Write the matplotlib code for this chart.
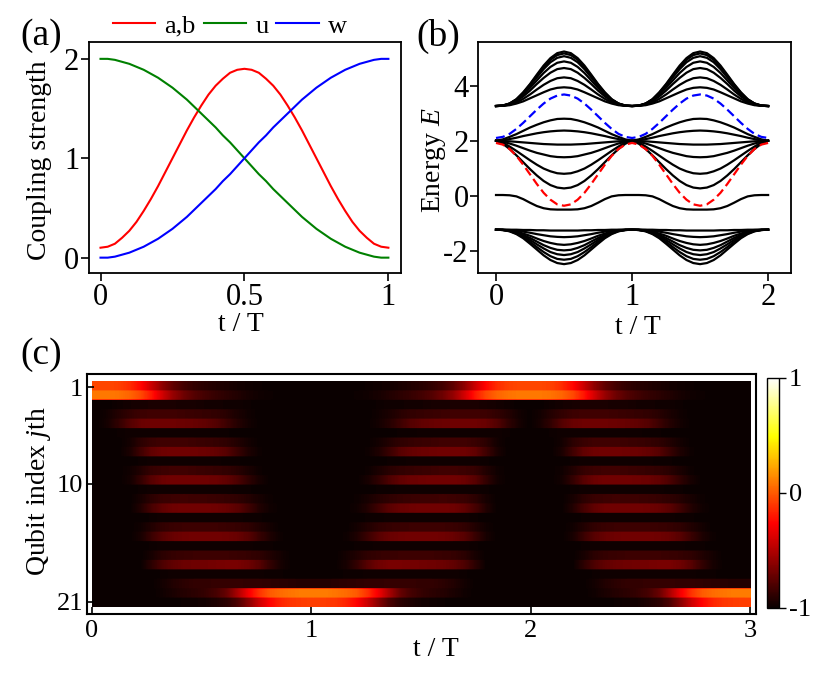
import numpy as np
import matplotlib
matplotlib.use("Agg")
import matplotlib.pyplot as plt

plt.rcParams['font.family'] = ['Liberation Serif', 'DejaVu Serif']
plt.rcParams['mathtext.fontset'] = 'custom'
plt.rcParams['mathtext.rm'] = 'Liberation Serif'
plt.rcParams['mathtext.it'] = 'Liberation Serif:italic'
plt.rcParams['axes.unicode_minus'] = False

# ---------------- panel (a): coupling strengths, t/T = 0..1 step 0.025 ----------------
t_a = np.linspace(0, 1, 41)
coup_ab = [0.10, 0.11, 0.14, 0.20, 0.27, 0.36, 0.47, 0.59, 0.72, 0.86, 1.00, 1.14, 1.28, 1.41,
           1.53, 1.64, 1.73, 1.80, 1.86, 1.89, 1.90, 1.89, 1.86, 1.80, 1.73, 1.64, 1.53, 1.41,
           1.28, 1.14, 1.00, 0.86, 0.72, 0.59, 0.47, 0.36, 0.27, 0.20, 0.14, 0.11, 0.10]
coup_u = [2.00, 2.00, 1.99, 1.97, 1.95, 1.92, 1.89, 1.85, 1.81, 1.76, 1.71, 1.65, 1.59, 1.52,
          1.45, 1.38, 1.31, 1.23, 1.16, 1.08, 1.00, 0.92, 0.84, 0.77, 0.69, 0.62, 0.55, 0.48,
          0.41, 0.35, 0.29, 0.24, 0.19, 0.15, 0.11, 0.08, 0.05, 0.03, 0.01, 0.00, 0.00]
coup_w = [0.00, 0.00, 0.01, 0.03, 0.05, 0.08, 0.11, 0.15, 0.19, 0.24, 0.29, 0.35, 0.41, 0.48,
          0.55, 0.62, 0.69, 0.77, 0.84, 0.92, 1.00, 1.08, 1.16, 1.23, 1.31, 1.38, 1.45, 1.52,
          1.59, 1.65, 1.71, 1.76, 1.81, 1.85, 1.89, 1.92, 1.95, 1.97, 1.99, 2.00, 2.00]
labels_a = ['a,b', 'u', 'w']

# ---------------- panel (b): spectrum, values read at t/T = 0, 0.05, ..., 0.5 ----------------
# (curves are symmetric about t/T = 0.5 and repeat with period T)
upper_band = [
    [3.26, 3.28, 3.35, 3.51, 3.76, 4.06, 4.40, 4.73, 5.00, 5.18, 5.24],
    [3.26, 3.28, 3.35, 3.50, 3.74, 4.04, 4.36, 4.68, 4.94, 5.11, 5.17],
    [3.26, 3.27, 3.35, 3.49, 3.71, 4.00, 4.30, 4.60, 4.85, 5.01, 5.07],
    [3.26, 3.27, 3.34, 3.47, 3.67, 3.92, 4.19, 4.46, 4.68, 4.83, 4.88],
    [3.26, 3.27, 3.32, 3.44, 3.61, 3.82, 4.06, 4.28, 4.47, 4.60, 4.64],
    [3.26, 3.27, 3.31, 3.39, 3.52, 3.68, 3.86, 4.03, 4.17, 4.27, 4.30],
    [3.26, 3.27, 3.29, 3.35, 3.43, 3.54, 3.65, 3.76, 3.86, 3.92, 3.94],
]
middle_band = [
    [2.00, 2.05, 2.14, 2.24, 2.36, 2.48, 2.58, 2.67, 2.74, 2.79, 2.80],
    [2.00, 2.02, 2.06, 2.11, 2.17, 2.22, 2.27, 2.31, 2.34, 2.36, 2.37],
    [2.00, 1.99, 1.98, 1.96, 1.94, 1.92, 1.90, 1.88, 1.87, 1.86, 1.86],
    [2.00, 1.96, 1.90, 1.82, 1.73, 1.64, 1.56, 1.50, 1.44, 1.41, 1.40],
    [2.00, 1.93, 1.79, 1.63, 1.46, 1.29, 1.13, 0.99, 0.89, 0.82, 0.80],
    [2.00, 1.89, 1.70, 1.47, 1.22, 0.97, 0.74, 0.54, 0.39, 0.30, 0.27],
]
zero_mode = [0.03, 0.03, 0.02, -0.02, -0.12, -0.25, -0.37, -0.45, -0.49, -0.50, -0.50]
lower_band = [
    [-1.23, -1.23, -1.23, -1.23, -1.24, -1.24, -1.25, -1.25, -1.26, -1.26, -1.26],
    [-1.23, -1.23, -1.24, -1.26, -1.30, -1.34, -1.39, -1.43, -1.47, -1.49, -1.50],
    [-1.23, -1.23, -1.26, -1.30, -1.37, -1.45, -1.55, -1.64, -1.71, -1.76, -1.78],
    [-1.23, -1.24, -1.27, -1.33, -1.42, -1.53, -1.66, -1.79, -1.89, -1.96, -1.98],
    [-1.23, -1.24, -1.27, -1.35, -1.46, -1.60, -1.76, -1.91, -2.04, -2.12, -2.15],
    [-1.23, -1.24, -1.28, -1.37, -1.50, -1.67, -1.86, -2.04, -2.19, -2.29, -2.32],
    [-1.23, -1.24, -1.29, -1.39, -1.54, -1.74, -1.95, -2.16, -2.33, -2.44, -2.48],
]
edge_blue = [2.10, 2.14, 2.25, 2.43, 2.65, 2.89, 3.13, 3.35, 3.53, 3.64, 3.68]
edge_red = [1.92, 1.86, 1.70, 1.45, 1.13, 0.78, 0.43, 0.11, -0.14, -0.31, -0.36]

# ---------------- panel (c): <sigma_z> per row, read at t/T = 0, 0.05, ..., 1 ----------------
# (second period is the time-reverse of the first, third repeats the first)
sz_rows = [
    [-0.06, -0.06, -0.08, -0.14, -0.25, -0.42, -0.60, -0.74, -0.83, -0.88, -0.91, -0.93, -0.95, -0.97, -0.98, -0.99, -1, -1, -1, -1, -1],
    [0.09, 0.09, 0.07, 0.03, -0.05, -0.20, -0.40, -0.58, -0.70, -0.78, -0.83, -0.87, -0.90, -0.93, -0.96, -0.98, -0.99, -1, -1, -1, -1],
    [-1, -1, -0.98, -0.97, -0.96, -0.95, -0.95, -0.95, -0.96, -0.96, -0.97, -0.97, -0.98, -0.98, -0.99, -1, -1, -1, -1, -1, -1],
    [-1, -0.97, -0.92, -0.88, -0.85, -0.84, -0.84, -0.84, -0.85, -0.86, -0.87, -0.88, -0.91, -0.95, -0.98, -1, -1, -1, -1, -1, -1],
    [-1, -0.96, -0.88, -0.78, -0.72, -0.70, -0.70, -0.70, -0.71, -0.72, -0.74, -0.78, -0.85, -0.92, -0.97, -1, -1, -1, -1, -1, -1],
    [-1, -1, -0.99, -0.98, -0.98, -0.98, -0.98, -0.98, -0.98, -0.98, -0.98, -0.99, -0.99, -1, -1, -1, -1, -1, -1, -1, -1],
    [-1, -1, -1, -0.97, -0.90, -0.86, -0.84, -0.84, -0.84, -0.85, -0.86, -0.87, -0.89, -0.93, -0.97, -1, -1, -1, -1, -1, -1],
    [-1, -1, -1, -0.95, -0.84, -0.74, -0.70, -0.69, -0.69, -0.70, -0.71, -0.73, -0.77, -0.86, -0.94, -0.99, -1, -1, -1, -1, -1],
    [-1, -1, -1, -1, -0.99, -0.98, -0.98, -0.98, -0.98, -0.98, -0.98, -0.98, -0.99, -0.99, -1, -1, -1, -1, -1, -1, -1],
    [-1, -1, -1, -0.98, -0.93, -0.87, -0.85, -0.84, -0.84, -0.85, -0.86, -0.87, -0.88, -0.91, -0.95, -0.99, -1, -1, -1, -1, -1],
    [-1, -1, -1, -0.97, -0.88, -0.77, -0.71, -0.69, -0.69, -0.69, -0.70, -0.71, -0.74, -0.80, -0.89, -0.96, -1, -1, -1, -1, -1],
    [-1, -1, -1, -1, -0.99, -0.98, -0.98, -0.98, -0.98, -0.98, -0.98, -0.98, -0.98, -0.99, -0.99, -1, -1, -1, -1, -1, -1],
    [-1, -1, -1, -1, -0.96, -0.90, -0.86, -0.85, -0.84, -0.85, -0.85, -0.86, -0.87, -0.89, -0.92, -0.96, -0.99, -1, -1, -1, -1],
    [-1, -1, -1, -1, -0.93, -0.82, -0.74, -0.70, -0.69, -0.69, -0.69, -0.70, -0.72, -0.76, -0.84, -0.93, -0.98, -1, -1, -1, -1],
    [-1, -1, -1, -1, -1, -0.99, -0.98, -0.98, -0.98, -0.98, -0.98, -0.98, -0.98, -0.98, -0.99, -0.99, -1, -1, -1, -1, -1],
    [-1, -1, -1, -1, -0.98, -0.93, -0.88, -0.86, -0.85, -0.85, -0.85, -0.85, -0.86, -0.87, -0.89, -0.93, -0.97, -1, -1, -1, -1],
    [-1, -1, -1, -1, -0.96, -0.86, -0.77, -0.72, -0.70, -0.69, -0.69, -0.69, -0.70, -0.72, -0.77, -0.86, -0.94, -0.99, -1, -1, -1],
    [-1, -1, -1, -1, -1, -0.99, -0.98, -0.98, -0.98, -0.98, -0.98, -0.98, -0.98, -0.98, -0.98, -0.99, -0.99, -1, -1, -1, -1],
    [-1, -1, -1, -1, -1, -0.96, -0.90, -0.87, -0.86, -0.85, -0.85, -0.85, -0.85, -0.86, -0.87, -0.89, -0.93, -0.97, -1, -1, -1],
    [-1, -1, -1, -1, -1, -0.90, -0.80, -0.74, -0.71, -0.70, -0.69, -0.68, -0.67, -0.67, -0.70, -0.77, -0.88, -0.96, -1, -1, -1],
    [-1, -1, -1, -1, -1, -1, -0.99, -0.98, -0.98, -0.98, -0.98, -0.98, -0.98, -0.98, -0.98, -0.98, -0.99, -0.99, -1, -1, -1],
    [-1, -1, -1, -1, -1, -1, -0.97, -0.93, -0.90, -0.88, -0.88, -0.87, -0.87, -0.87, -0.88, -0.88, -0.89, -0.90, -0.91, -0.92, -0.92],
    [-1, -1, -1, -1, -1, -1, -0.98, -0.95, -0.92, -0.90, -0.87, -0.82, -0.72, -0.52, -0.30, -0.12, 0.00, 0.05, 0.08, 0.10, 0.10],
    [-1, -1, -1, -1, -1, -1, -1, -1, -0.99, -0.98, -0.97, -0.94, -0.90, -0.80, -0.62, -0.42, -0.26, -0.16, -0.11, -0.09, -0.08],
]
qubit_ticks = [1, 10, 21]
cbar_ticks = [-1, 0, 1]
cbar_ticklabels = ['-1', '0', '1']

# ======================================================================
fig = plt.figure(figsize=(8.31, 6.79), dpi=100)

TICK_A = 22
LAB = 20

def style_box(ax, lw=1.3):
    for s in ax.spines.values():
        s.set_linewidth(lw)

# ---------- (a) ----------
axa = fig.add_axes([0.1071, 0.598, 0.3755, 0.3402])
la, = axa.plot(t_a, coup_ab, color='red', lw=1.5)
lu, = axa.plot(t_a, coup_u, color='green', lw=1.5)
lw_, = axa.plot(t_a, coup_w, color='blue', lw=1.5)
axa.set_xlim(-0.04, 1.044)
axa.set_ylim(-0.154, 2.17)
axa.set_xticks([0, 0.5, 1])
axa.set_xticklabels(['0', '0.5', '1'])
axa.set_yticks([0, 1, 2])
axa.tick_params(direction='out', length=6, width=1.2, labelsize=TICK_A, pad=1)
axa.set_xlabel('t / T', fontsize=LAB)
axa.xaxis.set_label_coords(0.487, -0.17)
axa.set_ylabel('Coupling strength', fontsize=LAB)
axa.yaxis.set_label_coords(-0.118, 0.489)
style_box(axa)
fig.legend([la, lu, lw_], labels_a, loc='center', bbox_to_anchor=(230 / 831, 1 - 26 / 679),
           ncol=3, frameon=False, fontsize=19, handlelength=1.6, handletextpad=0.35,
           columnspacing=0.3, borderaxespad=0)
fig.text(20 / 831, 1 - 36 / 679, '(a)', fontsize=27, va='center', ha='left')

# ---------- (b) ----------
axb = fig.add_axes([0.5756, 0.598, 0.3759, 0.3402])
t_b = np.linspace(0, 2, 41)

def two_periods(h):
    h = list(h)
    one = h + h[-2::-1]
    return np.array(one + one[1:])

for curve in upper_band + middle_band + [zero_mode] + lower_band:
    axb.plot(t_b, two_periods(curve), color='black', lw=1.6)
axb.plot(t_b, two_periods(edge_blue), color='blue', lw=1.6, dashes=(4, 2))
axb.plot(t_b, two_periods(edge_red), color='red', lw=1.6, dashes=(4, 2))
axb.set_xlim(-0.13, 2.166)
axb.set_ylim(-2.80, 5.586)
axb.set_xticks([0, 1, 2])
axb.set_yticks([-2, 0, 2, 4])
axb.tick_params(direction='out', length=6, width=1.2, labelsize=TICK_A, pad=1)
axb.set_xlabel('t / T', fontsize=LAB)
axb.xaxis.set_label_coords(0.51, -0.18)
axb.set_ylabel('Energy $E$', fontsize=LAB)
axb.yaxis.set_label_coords(-0.097, 0.49)
style_box(axb)
fig.text(416 / 831, 1 - 36 / 679, '(b)', fontsize=27, va='center', ha='left')

# ---------- (c) ----------
axc = fig.add_axes([0.1051, 0.0957, 0.8047, 0.3535])
M = np.array(sz_rows, dtype=float)
full = np.concatenate([M, M[:, ::-1][:, 1:], M[:, 1:]], axis=1)
img = np.repeat(full, 10, axis=0)
im = axc.imshow(img, cmap='hot', vmin=-1, vmax=1, aspect='auto',
                extent=(0, 3, 21.5, 0.5), interpolation='bilinear',
                interpolation_stage='data')
axc.set_xlim(-0.02, 3.026)
axc.set_ylim(22.12, -0.22)
axc.set_xticks([0, 1, 2, 3])
axc.set_yticks(qubit_ticks)
axc.tick_params(direction='in', length=5, width=1.2, labelsize=19, pad=4)
axc.tick_params(axis='y', pad=3)
axc.set_xlabel('t / T', fontsize=LAB)
axc.xaxis.set_label_coords(0.521, -0.096)
axc.set_ylabel('Qubit index $j$th', fontsize=LAB)
axc.yaxis.set_label_coords(-0.051, 0.513)
style_box(axc, 1.5)
fig.text(20 / 831, 1 - 355 / 679, '(c)', fontsize=27, va='center', ha='left')

cax = fig.add_axes([0.923, 0.105, 0.0148, 0.3387])
cb = fig.colorbar(im, cax=cax, ticks=cbar_ticks)
cb.ax.set_yticklabels(cbar_ticklabels)
cb.ax.tick_params(direction='out', length=5, width=1.0, labelsize=19, pad=2)
cb.outline.set_linewidth(1.0)

fig.savefig('out.png', dpi=100)
